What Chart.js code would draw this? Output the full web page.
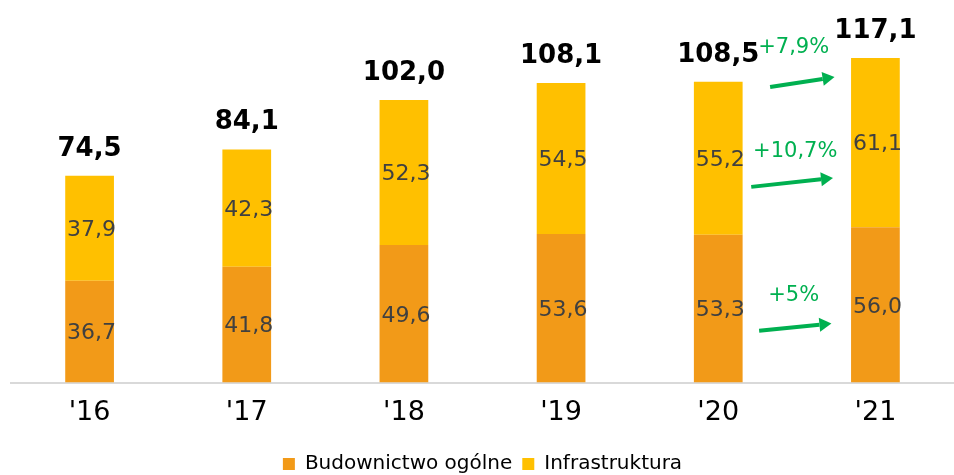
<!DOCTYPE html>
<html>
<head>
<meta charset="utf-8">
<script src="https://cdn.jsdelivr.net/npm/chart.js@4"></script>
<style>
  html, body { margin: 0; padding: 0; background: #fff; }
  #wrap { width: 954px; height: 475px; }
</style>
</head>
<body>
<div id="wrap"><canvas id="chart"></canvas></div>
<script>
// data
const years = ["'16", "'17", "'18", "'19", "'20", "'21"];
const budownictwo = [36.7, 41.8, 49.6, 53.6, 53.3, 56.0];
const infrastruktura = [37.9, 42.3, 52.3, 54.5, 55.2, 61.1];
const totals = [74.5, 84.1, 102.0, 108.1, 108.5, 117.1];
const growthLabels = ["+7,9%", "+10,7%", "+5%"];

const FONT = "'DejaVu Sans', sans-serif";
const fmt = (v) => v.toFixed(1).replace(".", ",");

// value labels inside segments + bold totals on top
const valueLabels = {
  id: "valueLabels",
  afterDatasetsDraw(chart) {
    const ctx = chart.ctx;
    ctx.save();
    ctx.textAlign = "center";
    ctx.textBaseline = "middle";
    ctx.font = "22px " + FONT;
    ctx.fillStyle = "#404040";
    chart.data.datasets.forEach((ds, i) => {
      chart.getDatasetMeta(i).data.forEach((bar, j) => {
        ctx.fillText(fmt(ds.data[j]), bar.x + 2, (bar.y + bar.base) / 2 + 2);
      });
    });
    ctx.font = "bold 26px " + FONT;
    ctx.fillStyle = "#000";
    ctx.textBaseline = "alphabetic";
    const top = chart.getDatasetMeta(1).data;
    top.forEach((bar, j) => {
      ctx.fillText(fmt(totals[j]), bar.x, bar.y - 20);
    });
    ctx.restore();
  },
};

// green growth arrows between '20 and '21 (positions in scale units)
const growthArrows = {
  id: "growthArrows",
  afterDatasetsDraw(chart, args, opts) {
    const { ctx, scales } = chart;
    const x = scales.x, y = scales.y;
    const px = (v) => x.getPixelForValue(4) + (v - 4) * (x.getPixelForValue(5) - x.getPixelForValue(4));
    ctx.save();
    ctx.strokeStyle = opts.color;
    ctx.fillStyle = opts.color;
    ctx.lineWidth = 4;
    opts.items.forEach((a, i) => {
      const x1 = px(a.from[0]), y1 = y.getPixelForValue(a.from[1]);
      const x2 = px(a.to[0]), y2 = y.getPixelForValue(a.to[1]);
      const ang = Math.atan2(y2 - y1, x2 - x1);
      const hx = x2 - 12 * Math.cos(ang), hy = y2 - 12 * Math.sin(ang);
      ctx.beginPath();
      ctx.moveTo(x1, y1);
      ctx.lineTo(hx, hy);
      ctx.stroke();
      ctx.beginPath();
      ctx.moveTo(x2, y2);
      ctx.lineTo(hx + 7 * Math.sin(ang), hy - 7 * Math.cos(ang));
      ctx.lineTo(hx - 7 * Math.sin(ang), hy + 7 * Math.cos(ang));
      ctx.closePath();
      ctx.fill();
      ctx.font = "21px " + FONT;
      ctx.textAlign = "center";
      ctx.textBaseline = "middle";
      ctx.fillText(growthLabels[i], px(a.text[0]), y.getPixelForValue(a.text[1]));
    });
    ctx.restore();
  },
};

// nudge the legend a bit lower than Chart.js would put it
const legendShift = {
  id: "legendShift",
  afterLayout(chart) {
    if (chart.legend) {
      chart.legend.top += 9;
      chart.legend.bottom += 9;
    }
  },
};

new Chart(document.getElementById("chart"), {
  type: "bar",
  data: {
    labels: years,
    datasets: [
      {
        label: "Budownictwo ogólne",
        data: budownictwo,
        backgroundColor: "#F29A18",
      },
      {
        label: "Infrastruktura",
        data: infrastruktura,
        backgroundColor: "#FFC000",
      },
    ],
  },
  options: {
    responsive: true,
    maintainAspectRatio: false,
    animation: false,
    layout: { padding: { left: 11, right: 0, top: 0, bottom: 0 } },
    datasets: { bar: { categoryPercentage: 1, barPercentage: 0.31 } },
    scales: {
      x: {
        stacked: true,
        grid: { display: false },
        border: { color: "#D9D9D9", width: 2 },
        ticks: { color: "#000", font: { family: FONT, size: 27 }, padding: 6 },
      },
      y: {
        stacked: true,
        display: false,
        min: 0,
        max: 138,
      },
    },
    plugins: {
      legend: {
        position: "bottom",
        labels: {
          boxWidth: 12,
          boxHeight: 12,
          padding: 10,
          color: "#000",
          font: { family: FONT, size: 20 },
        },
      },
      tooltip: { enabled: false },
      growthArrows: {
        color: "#00B050",
        items: [
          { from: [4.33, 106.6], to: [4.74, 110.2], text: [4.48, 121] },
          { from: [4.21, 70.6], to: [4.73, 73.8], text: [4.49, 83.2] },
          { from: [4.26, 18.7], to: [4.72, 21.3], text: [4.48, 31.3] },
        ],
      },
    },
  },
  plugins: [valueLabels, growthArrows, legendShift],
});
</script>
</body>
</html>
